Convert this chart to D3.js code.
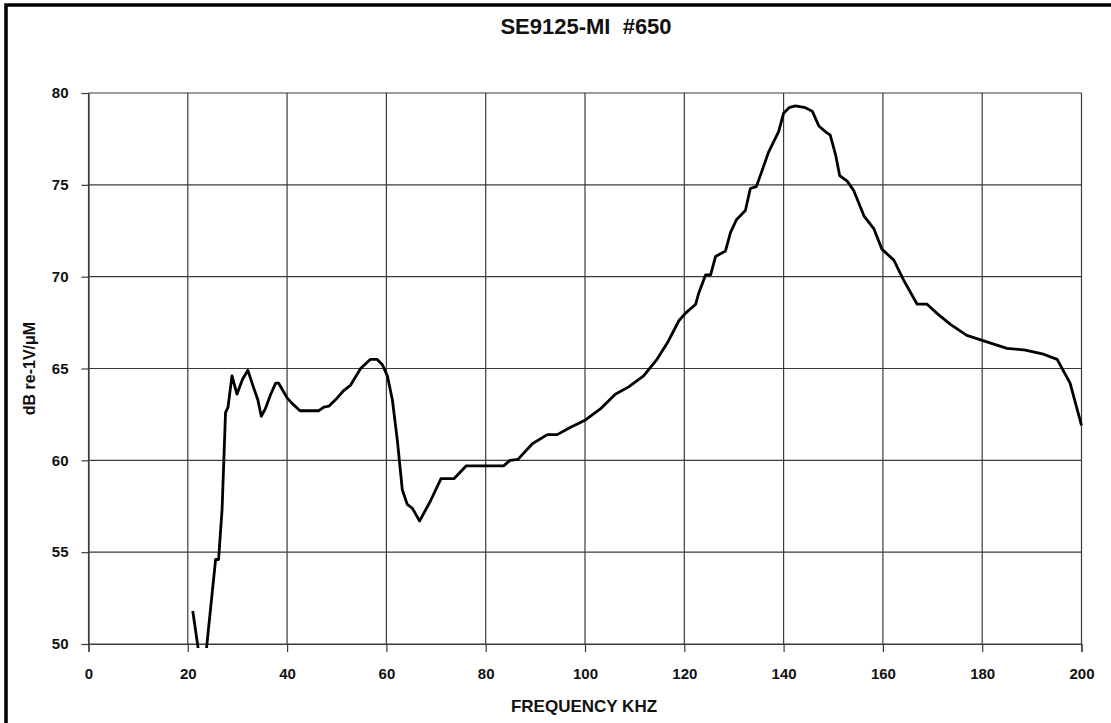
<!DOCTYPE html>
<html>
<head>
<meta charset="utf-8">
<script src="https://cdn.jsdelivr.net/npm/d3@7"></script>
<style>
  html, body { margin: 0; padding: 0; background: #fff; }
  svg { display: block; }
  text { font-family: "Liberation Sans", Arial, sans-serif; fill: #111; }
</style>
</head>
<body>
<svg id="chart" width="1111" height="723"></svg>
<script>
// Frequency response of the transducer (kHz vs dB re 1V/µM)
const frequencyKHz = [
  21.0, 22.6, 23.4, 25.6, 26.2, 26.9, 27.6, 28.1, 28.9, 29.9, 31.0, 32.1,
  33.2, 34.1, 34.8, 35.6, 36.7, 37.7, 38.3, 40.0, 41.0, 42.6, 46.4, 47.4,
  48.4, 50.1, 51.4, 52.8, 54.8, 56.8, 58.1, 59.2, 60.2, 61.2, 62.2, 63.2,
  64.2, 65.2, 66.7, 68.9, 71.0, 73.6, 76.1, 83.6, 84.9, 86.5, 89.4, 92.4,
  94.4, 97.1, 100.1, 103.1, 106.1, 108.8, 111.8, 114.5, 116.6, 118.9, 120.2,
  122.3, 122.9, 124.3, 125.3, 126.3, 128.3, 129.3, 130.5, 132.3, 133.3,
  134.5, 135.7, 137.0, 139.0, 140.0, 141.1, 142.4, 144.4, 145.8, 147.1,
  148.4, 149.4, 150.5, 151.3, 152.8, 154.1, 156.2, 158.2, 159.8, 162.2,
  164.2, 166.9, 168.9, 170.9, 173.6, 176.9, 180.3, 185.0, 188.7, 192.1,
  195.1, 197.7, 200.0
];
const responseDB = [
  51.8, 48.8, 48.8, 54.6, 54.6, 57.3, 62.6, 62.9, 64.6, 63.6, 64.4, 64.9,
  64.0, 63.3, 62.4, 62.8, 63.6, 64.2, 64.2, 63.4, 63.1, 62.7, 62.7, 62.9,
  62.95, 63.4, 63.8, 64.1, 65.0, 65.5, 65.5, 65.2, 64.6, 63.3, 61.1, 58.4,
  57.6, 57.4, 56.7, 57.8, 59.0, 59.0, 59.7, 59.7, 60.0, 60.05, 60.9, 61.4,
  61.4, 61.8, 62.2, 62.8, 63.6, 64.0, 64.6, 65.5, 66.4, 67.6, 68.0,
  68.5, 69.1, 70.1, 70.1, 71.1, 71.4, 72.4, 73.1, 73.6, 74.8,
  74.9, 75.8, 76.8, 77.9, 78.9, 79.2, 79.3, 79.2, 79.0, 78.2,
  77.9, 77.7, 76.6, 75.5, 75.2, 74.7, 73.3, 72.6, 71.5, 70.9,
  69.8, 68.5, 68.5, 68.0, 67.4, 66.8, 66.5, 66.1, 66.0, 65.8,
  65.5, 64.2, 61.9
];

const xTicks = [0, 20, 40, 60, 80, 100, 120, 140, 160, 180, 200];
const yTicks = [50, 55, 60, 65, 70, 75, 80];

const chartTitle = "SE9125-MI  #650";
const xTitle = "FREQUENCY KHZ";
const yTitle = "dB re-1V/\u03BCM";

const svg = d3.select("#chart");

// page frame
svg.append("path")
  .attr("d", "M6,723 V5 H1111")
  .attr("fill", "none")
  .attr("stroke", "#000")
  .attr("stroke-width", 3.5);

const x = d3.scaleLinear().domain([0, 200]).range([88.5, 1081.5]);
const y = d3.scaleLinear().domain([50, 80]).range([644, 93]);

// grid
const grid = svg.append("g").attr("stroke", "#3a3a3a").attr("stroke-width", 1.2);
grid.selectAll(".vg").data(xTicks).join("line")
  .attr("x1", d => x(d)).attr("x2", d => x(d))
  .attr("y1", y(80)).attr("y2", y(50));
grid.selectAll(".hg").data(yTicks).join("line")
  .attr("x1", x(0)).attr("x2", x(200))
  .attr("y1", d => y(d)).attr("y2", d => y(d));

// axes
const xAxis = svg.append("g")
  .attr("transform", `translate(0,${y(50)})`)
  .call(d3.axisBottom(x).tickValues(xTicks).tickSize(8).tickPadding(16).tickFormat(d3.format("d")));
const yAxis = svg.append("g")
  .attr("transform", `translate(${x(0)},0)`)
  .call(d3.axisLeft(y).tickValues(yTicks).tickSize(7).tickPadding(13).tickFormat(d3.format("d")));

[xAxis, yAxis].forEach(g => {
  g.select(".domain").attr("stroke", "#3a3a3a").attr("stroke-width", 1.2);
  g.selectAll(".tick line").attr("stroke", "#3a3a3a").attr("stroke-width", 1.2);
  g.selectAll(".tick text")
    .attr("font-family", "'Liberation Sans', Arial, sans-serif")
    .attr("font-size", 15)
    .attr("font-weight", "bold")
    .attr("fill", "#1a1a1a");
});

// response curve, clipped to the plot area
svg.append("clipPath").attr("id", "plotClip")
  .append("rect")
  .attr("x", x(0)).attr("y", y(80) - 2)
  .attr("width", x(200) - x(0) + 2).attr("height", y(50) - y(80) + 6);

const points = frequencyKHz.map((f, i) => [f, responseDB[i]]);
const line = d3.line().x(d => x(d[0])).y(d => y(d[1]));

svg.append("path")
  .datum(points)
  .attr("clip-path", "url(#plotClip)")
  .attr("d", line)
  .attr("fill", "none")
  .attr("stroke", "#000")
  .attr("stroke-width", 2.8)
  .attr("stroke-linejoin", "round");

// titles
svg.append("text")
  .attr("x", 586).attr("y", 34)
  .attr("text-anchor", "middle")
  .attr("font-size", 22)
  .attr("font-weight", "bold")
  .style("white-space", "pre")
  .text(chartTitle);

svg.append("text")
  .attr("x", 584).attr("y", 712)
  .attr("text-anchor", "middle")
  .attr("font-size", 17)
  .attr("font-weight", "bold")
  .text(xTitle);

svg.append("text")
  .attr("transform", `translate(35,${(y(50) + y(80)) / 2}) rotate(-90)`)
  .attr("text-anchor", "middle")
  .attr("font-size", 16)
  .attr("font-weight", "bold")
  .text(yTitle);
</script>
</body>
</html>
